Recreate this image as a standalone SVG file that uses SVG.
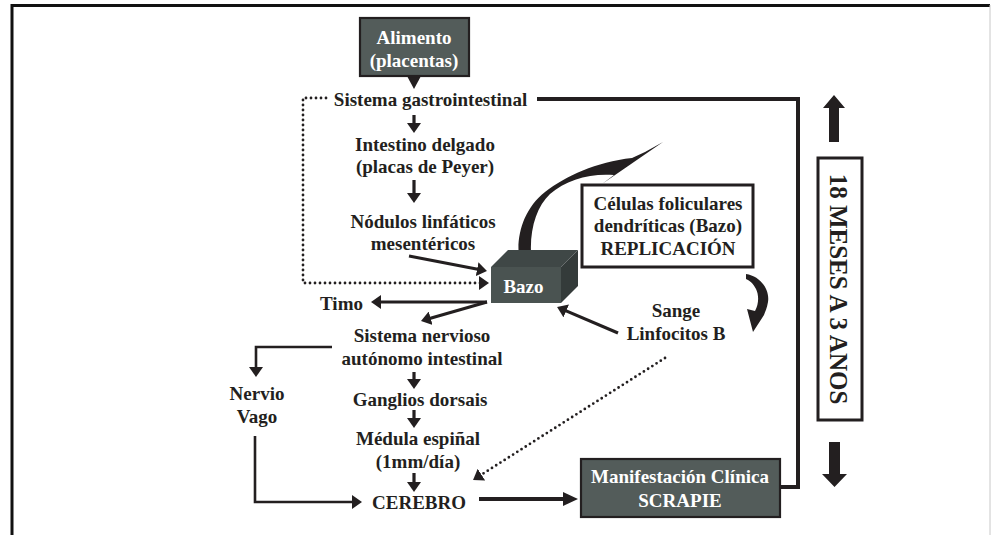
<svg xmlns="http://www.w3.org/2000/svg" width="991" height="535" viewBox="0 0 991 535">
<style>
.t{font-family:"Liberation Serif","Times New Roman",serif;font-weight:bold;font-size:19px;fill:#231f20;text-anchor:middle}
.w{fill:#ffffff}
.ln{fill:none;stroke:#231f20;stroke-width:3.2}
.th{fill:none;stroke:#231f20;stroke-width:4}
.dt{fill:none;stroke:#231f20;stroke-width:2.8;stroke-linecap:round;stroke-dasharray:0 5}
.dk{fill:#535c5a;stroke:#231f20;stroke-width:2.2}
.bx{fill:#ffffff;stroke:#231f20;stroke-width:3}
.fl{fill:#231f20}
</style>
<defs>
<marker id="ah" viewBox="0 0 10 14" refX="2" refY="7" markerWidth="10" markerHeight="14" markerUnits="userSpaceOnUse" orient="auto">
<path d="M0,0 L10,7 L0,14 Z" fill="#231f20"/>
</marker>
<marker id="ahb" viewBox="0 0 15 14" refX="3" refY="7" markerWidth="15" markerHeight="14" markerUnits="userSpaceOnUse" orient="auto">
<path d="M0,0 L15,7 L0,14 Z" fill="#231f20"/>
</marker>
</defs>
<rect width="991" height="535" fill="#ffffff"/>
<g id="frame">
<path d="M12,535 L12,5.5 L990,5.5" fill="none" stroke="#111" stroke-width="3"/>
<line x1="990" y1="5" x2="990" y2="535" stroke="#c8c8c8" stroke-width="1"/>
</g>
<g id="connectors">
<polygon class="fl" points="407,76 421,76 414,89"/>
<line class="ln" x1="414" y1="115" x2="414" y2="125" marker-end="url(#ah)"/>
<line class="ln" x1="414" y1="180" x2="414" y2="195" marker-end="url(#ah)"/>
<line class="ln" x1="409" y1="256" x2="479.1" y2="269.5" marker-end="url(#ah)"/>
<path class="dt" d="M326,98 L303,98 L303,283 L481,283" marker-end="url(#ah)"/>
<line class="ln" x1="487" y1="302" x2="379" y2="302" marker-end="url(#ah)"/>
<line class="ln" x1="487" y1="302" x2="428.7" y2="318.8" marker-end="url(#ah)"/>
<line class="ln" x1="618" y1="333" x2="564.4" y2="310.1" marker-end="url(#ah)"/>
<path class="ln" style="stroke-width:2.6" d="M332,347 L256,347 L256,369" marker-end="url(#ah)"/>
<line class="ln" x1="414" y1="372" x2="414" y2="381" marker-end="url(#ah)"/>
<line class="ln" x1="414" y1="410" x2="414" y2="420" marker-end="url(#ah)"/>
<line class="ln" x1="414" y1="473" x2="414" y2="484" marker-end="url(#ah)"/>
<path class="ln" style="stroke-width:2.6" d="M255,436 L255,502 L354,502" marker-end="url(#ah)"/>
<line class="th" x1="479" y1="499" x2="566" y2="499" marker-end="url(#ahb)"/>
<path class="dt" d="M665,358 L479.8,475.7" marker-end="url(#ah)"/>
<path class="th" d="M780,487 L798,487 L798,99 L537,99"/>
<path class="fl" d="M520,263 C515,240 522,210 545,192 C566,176 596,162 632,158 L645,152 L663,142 L602,184 L614,175 C590,173 566,180 550,194 C535,208 528,235 532,263 Z"/>
<path class="fl" d="M746,274 C760,276 770,289 768,302 C767,308 765,312 764,315 L753,332 L747,309 L755,311 C759,304 759,295 756,289 C753,283 750,281 746,279 Z"/>
<polygon class="fl" points="834,95 845,108 839,108 839,142 829,142 829,108 823,108"/>
<polygon class="fl" points="829,442 840,442 840,474 847,474 834.5,487 822,474 829,474"/>
</g>
<g id="alimento">
<rect class="dk" x="360" y="18" width="109" height="58"/>
<text class="t w" x="414" y="44">Alimento</text>
<text class="t w" x="414" y="67">(placentas)</text>
</g>
<g id="gastro"><text class="t" x="430.5" y="106">Sistema gastrointestinal</text></g>
<g id="intestino">
<text class="t" x="425" y="151">Intestino delgado</text>
<text class="t" x="425" y="173">(placas de Peyer)</text>
</g>
<g id="nodulos">
<text class="t" x="423" y="228">Nódulos linfáticos</text>
<text class="t" x="423" y="250">mesentéricos</text>
</g>
<g id="bazo">
<polygon points="491,267 508,250 578,250 561,267" fill="#3f4746"/>
<polygon points="561,267 578,250 578,286 561,303" fill="#343b3a"/>
<rect x="491" y="267" width="70" height="36" fill="#4a5351"/>
<text class="t w" x="523.5" y="293">Bazo</text>
</g>
<g id="celulas">
<rect class="bx" x="582" y="185" width="171" height="82"/>
<text class="t" x="668" y="210">Células foliculares</text>
<text class="t" x="668" y="232">dendríticas (Bazo)</text>
<text class="t" x="668" y="255">REPLICACIÓN</text>
</g>
<g id="timo"><text class="t" x="341.5" y="310">Timo</text></g>
<g id="sange">
<text class="t" x="676" y="317">Sange</text>
<text class="t" x="676" y="340">Linfocitos B</text>
</g>
<g id="nervioso">
<text class="t" x="422" y="342">Sistema nervioso</text>
<text class="t" x="422" y="365">autónomo intestinal</text>
</g>
<g id="vago">
<text class="t" x="257" y="400">Nervio</text>
<text class="t" x="257" y="423">Vago</text>
</g>
<g id="ganglios"><text class="t" x="420" y="406">Ganglios dorsais</text></g>
<g id="medula">
<text class="t" x="418" y="445">Médula espiñal</text>
<text class="t" x="418" y="468">(1mm/día)</text>
</g>
<g id="cerebro"><text class="t" x="419" y="509">CEREBRO</text></g>
<g id="manifestacion">
<rect class="dk" x="581" y="459" width="199" height="58"/>
<text class="t w" x="680" y="483">Manifestación Clínica</text>
<text class="t w" x="680" y="507">SCRAPIE</text>
</g>
<g id="tiempo">
<rect class="bx" x="818" y="158" width="44" height="262"/>
<text class="t" style="font-size:25px" transform="translate(830,289) rotate(90)">18 MESES A 3 ANOS</text>
</g>
</svg>
